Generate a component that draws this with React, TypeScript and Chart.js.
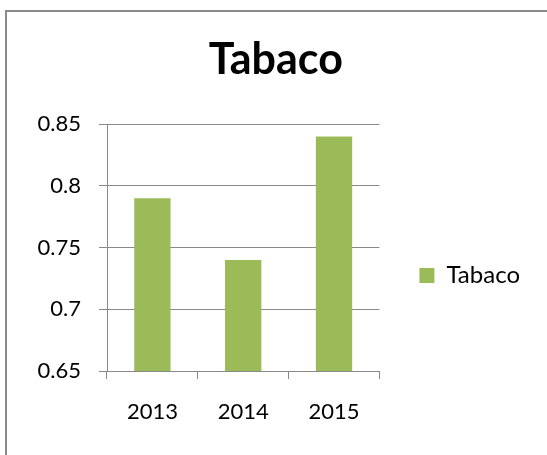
import React, { useEffect, useRef } from "react";
import { Chart, registerables } from "chart.js";

Chart.register(...registerables);

const categories: string[] = ["2013", "2014", "2015"];
const seriesName = "Tabaco";
const tabacoValues: number[] = [0.79, 0.74, 0.84];
const yTickValues: number[] = [0.65, 0.7, 0.75, 0.8, 0.85];
const yTickLabels: string[] = ["0.65", "0.7", "0.75", "0.8", "0.85"];
const chartTitle = "Tabaco";

const FONT = "Lato";
const GRID = "#898989";
const BAR = "#9BBB59";
const PAD_LEFT = 21.6;
const PAD_RIGHT = 17;

export default function App() {
  const canvasRef = useRef<HTMLCanvasElement | null>(null);

  useEffect(() => {
    const canvas = canvasRef.current;
    if (!canvas) return;
    const chart = new Chart(canvas, {
      type: "bar",
      data: {
        labels: categories,
        datasets: [
          {
            label: seriesName,
            data: tabacoValues,
            backgroundColor: BAR,
            borderWidth: 0,
            barPercentage: 0.4,
            categoryPercentage: 1,
          },
        ],
      },
      options: {
        responsive: false,
        animation: false,
        devicePixelRatio: 1,
        layout: { padding: { left: PAD_LEFT, right: PAD_RIGHT, top: 0, bottom: 0 } },
        plugins: {
          title: {
            display: true,
            text: chartTitle,
            color: "#000",
            font: { family: FONT, size: 43, weight: "bold", lineHeight: 1.2 },
            padding: { top: 34.4, bottom: 38.1 },
          },
          legend: {
            display: true,
            position: "right",
            fullSize: true,
            align: "center",
            maxWidth: 300,
            title: {
              display: true,
              text: "",
              font: { family: FONT, size: 16, lineHeight: 1 },
              padding: { top: 80, bottom: 0 },
            },
            labels: {
              color: "#000",
              font: { family: FONT, size: 24 },
              boxWidth: 15,
              boxHeight: 15,
              padding: 40,
            },
          },
          tooltip: { enabled: false },
        },
        scales: {
          x: {
            offset: true,
            grid: {
              display: true,
              drawOnChartArea: false,
              drawTicks: true,
              tickLength: 8,
              color: GRID,
              lineWidth: 1,
              offset: true,
            },
            border: { display: true, color: GRID, width: 1 },
            ticks: {
              color: "#000",
              font: { family: FONT, size: 22 },
              padding: 19.5,
              maxRotation: 0,
            },
            afterFit: (scale: any) => {
              scale.height = 84;
            },
          },
          y: {
            min: 0.65,
            max: 0.85,
            grid: {
              display: true,
              drawOnChartArea: true,
              drawTicks: true,
              tickLength: 8,
              color: GRID,
              lineWidth: 1,
            },
            border: { display: true, color: GRID, width: 1 },
            afterBuildTicks: (scale: any) => {
              scale.ticks = yTickValues.map((v) => ({ value: v }));
            },
            ticks: {
              color: "#000",
              font: { family: FONT, size: 22 },
              padding: 18,
              callback: (_v: any, i: number) => yTickLabels[i],
            },
            afterFit: (scale: any) => {
              scale.width = 107 - PAD_LEFT;
            },
          },
        },
      },
    });
    return () => chart.destroy();
  }, []);

  return (
    <div
      style={{
        position: "fixed",
        left: 0,
        top: 0,
        width: 547,
        height: 455,
        overflow: "hidden",
        background: "#fff",
      }}
    >
      <div
        style={{
          position: "absolute",
          left: 4.5,
          top: 10.2,
          width: 700,
          height: 700,
          borderLeft: "2px solid #8a8a8a",
          borderTop: "2px solid #8a8a8a",
        }}
      />
      <canvas
        ref={canvasRef}
        width={547}
        height={455}
        style={{ position: "absolute", left: 0, top: 0, width: 547, height: 455 }}
      />
    </div>
  );
}
